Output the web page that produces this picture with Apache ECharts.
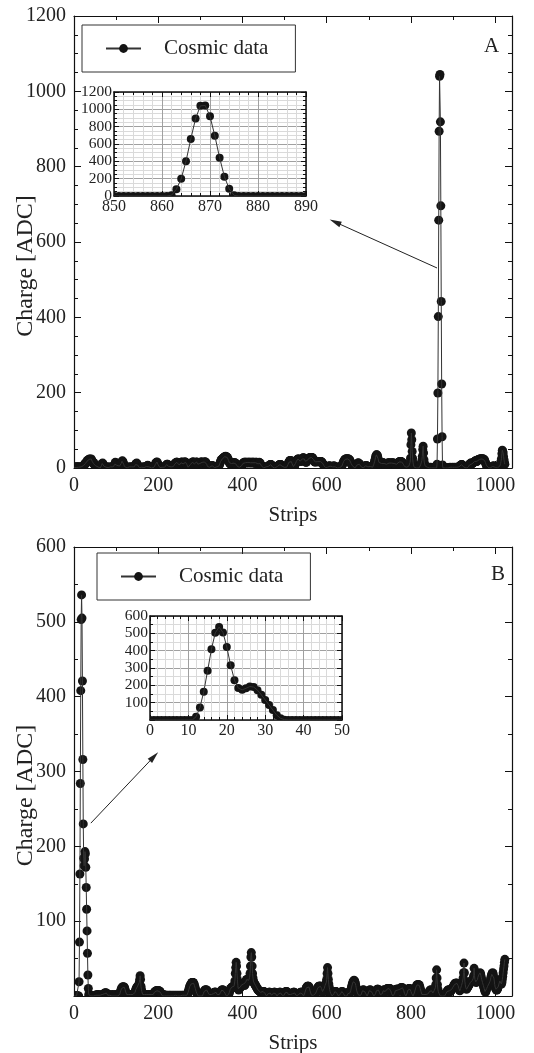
<!DOCTYPE html>
<html><head><meta charset="utf-8">
<script src="https://cdn.jsdelivr.net/npm/echarts@6/dist/echarts.min.js"></script>
<style>html,body{margin:0;padding:0;background:#fff}#c{width:534px;height:1053px}</style>
</head><body><div id="c"></div>
<script>
// ---- Panel A: charge per strip (strip = index 0..1023) ----
const chargeA = [
2,1,0,3,2,1,0,2,4,1,0,2,3,1,0,2,1,3,2,0,1,4,6,5,8,10,9,12,14,13,16,18,
20,19,22,21,23,24,22,23,20,24,21,18,17,15,12,14,10,8,9,6,5,3,4,2,1,3,2,0,1,2,0,1,
3,6,9,12,13,11,8,5,3,2,1,0,2,1,0,3,2,1,0,2,1,0,1,3,2,1,0,2,1,3,4,2,
6,10,15,14,12,9,7,5,4,6,8,7,5,4,6,9,12,15,18,19,17,14,10,6,4,2,1,0,2,1,0,1,
2,0,1,3,2,1,0,2,1,3,2,1,0,2,1,3,5,7,9,11,12,13,11,8,5,3,2,1,0,2,1,0,
1,2,0,1,2,3,1,0,2,1,3,2,4,5,6,7,6,5,3,2,1,0,2,1,0,1,3,2,1,0,2,4,
6,9,12,14,15,16,14,11,8,5,3,2,1,0,2,1,0,2,1,3,2,1,0,2,1,3,5,7,9,10,10,8,
6,4,2,1,0,2,1,3,2,1,0,2,4,6,8,10,12,13,14,15,15,15,14,12,10,9,8,9,10,12,14,15,
16,15,13,11,12,14,15,16,16,15,13,11,9,6,4,2,1,3,5,7,9,11,12,13,14,15,16,16,15,13,11,10,
12,14,15,16,15,13,10,8,7,8,10,12,14,15,16,16,15,13,11,12,14,15,16,16,16,15,13,10,7,4,2,1,
0,1,2,3,4,5,6,6,6,6,5,4,3,2,1,0,2,1,0,3,2,1,2,3,5,8,11,14,17,20,22,23,
24,25,26,27,28,29,30,30,31,30,30,29,28,26,23,20,17,14,12,11,10,11,12,13,14,14,13,12,13,14,14,13,
12,10,8,6,4,3,2,1,0,2,1,0,2,4,6,8,10,12,13,14,15,15,14,14,15,15,14,13,14,15,15,14,
14,15,15,14,13,14,15,15,14,14,15,15,14,13,12,14,15,15,14,13,12,11,12,14,15,14,12,10,8,6,4,3,
2,1,0,2,1,0,2,1,3,2,1,0,2,4,5,6,7,8,9,9,9,8,6,4,2,1,0,2,1,0,2,1,
0,2,3,4,5,6,7,8,9,9,9,9,8,7,5,3,2,1,0,2,1,3,2,1,0,2,4,6,9,12,15,17,
19,20,20,19,17,14,11,8,6,4,3,4,6,9,12,15,18,20,22,23,24,24,23,22,20,18,17,18,20,22,24,26,
27,27,26,24,21,18,16,15,16,18,20,22,24,25,26,27,27,28,28,28,28,28,27,26,24,22,19,17,16,16,17,17,
17,17,17,17,16,17,17,17,17,17,17,17,16,15,13,11,9,7,5,3,2,1,0,2,1,0,2,3,4,5,5,5,
5,4,3,2,1,2,3,4,5,5,5,4,3,2,1,0,2,1,0,2,1,3,2,1,0,2,1,3,5,8,11,14,
17,19,21,22,23,24,24,24,24,24,24,24,24,23,22,20,18,15,12,10,8,6,5,4,3,2,1,0,2,1,0,2,
8,11,13,13,13,12,10,8,6,4,2,1,0,2,1,0,2,3,4,5,6,6,6,6,5,4,3,2,1,2,3,4,
4,3,2,1,0,2,4,7,10,14,18,23,28,32,35,35,34,30,25,20,15,12,10,9,10,11,12,13,14,14,14,13,
12,11,10,9,8,9,10,11,12,13,13,13,13,13,13,12,12,13,13,13,13,13,13,13,12,11,10,9,8,9,10,11,
12,13,14,15,16,17,17,17,17,17,16,15,14,12,10,8,6,4,3,2,1,0,2,1,0,2,3,5,7,9,15,26,
62,93,75,44,26,15,8,4,2,1,0,2,1,0,2,1,0,2,1,0,2,3,5,8,10,13,20,31,49,58,40,22,
13,8,5,3,2,1,0,2,1,0,1,2,0,1,0,2,1,0,0,0,0,0,0,0,0,0,0,0,0,0,10,77,
199,402,658,894,1040,1045,919,696,442,223,83,8,0,0,0,0,0,0,0,0,0,0,0,0,0,0,0,1,0,2,1,0,
0,1,0,2,1,0,1,0,2,1,0,1,0,2,1,0,2,1,3,4,5,6,7,8,9,9,8,7,5,3,2,1,
0,2,1,0,2,1,0,1,2,4,6,8,10,12,13,13,12,11,12,13,14,15,16,17,18,19,19,18,17,18,20,22,
22,22,23,23,24,24,24,24,24,24,24,24,24,23,22,20,17,14,11,8,6,4,3,2,1,0,2,1,0,2,1,0,
2,3,4,5,5,5,4,3,2,1,0,2,1,0,2,1,0,2,3,5,8,12,18,25,38,47,44,40,30,22,15,10
];
// ---- Panel B ----
const chargeB = [
0,0,0,0,0,0,0,0,0,0,0,0,19,72,163,284,408,503,536,505,421,316,230,184,174,183,193,190,172,145,116,87,
57,28,10,2,0,0,0,0,0,0,0,0,0,0,0,0,0,0,0,0,1,0,2,1,0,1,0,2,1,0,1,0,
0,1,0,2,1,0,1,2,3,4,4,4,4,4,3,2,1,0,1,0,2,1,0,1,0,1,0,2,1,0,1,0,
1,0,2,1,0,1,0,2,1,0,1,0,2,3,5,7,9,10,11,12,12,12,12,12,11,9,7,5,3,2,1,0,
1,0,2,1,0,1,0,2,1,0,1,0,2,1,0,2,3,5,7,9,10,11,12,13,13,12,13,18,22,27,22,13,
9,6,4,2,1,0,1,0,2,1,0,1,0,2,1,0,1,0,2,1,0,1,0,2,1,0,1,0,2,3,4,5,
5,6,6,7,7,7,7,7,7,7,7,6,6,5,4,3,2,1,0,1,0,2,1,0,1,0,0,1,0,0,1,0,
0,0,1,0,0,1,0,0,0,1,0,0,0,1,0,0,0,1,0,0,0,1,0,0,0,1,0,0,0,1,0,0,
0,1,0,0,1,0,0,1,0,0,1,0,1,2,3,5,7,9,11,13,14,15,16,17,18,18,18,18,17,16,14,12,
10,8,6,4,3,2,1,0,1,0,2,1,0,1,0,2,1,0,2,3,5,6,7,8,8,8,8,8,7,6,5,4,
3,2,1,0,1,0,2,1,0,1,2,3,4,5,5,5,5,5,4,3,2,1,0,1,0,2,3,4,5,6,7,8,
8,8,8,7,6,5,4,3,2,1,0,2,1,0,1,2,3,5,7,9,10,10,11,12,12,12,11,12,13,15,20,30,
38,45,40,30,22,14,10,8,9,10,11,12,13,14,15,16,16,17,17,16,15,14,15,17,19,21,22,22,21,20,20,21,
22,25,30,40,52,58,52,40,30,24,20,18,17,16,15,14,13,12,11,10,9,8,8,7,7,6,6,5,5,5,5,5,
5,6,6,6,5,4,3,2,1,0,1,0,2,3,4,5,5,5,4,3,2,1,0,1,2,3,4,5,5,5,4,3,
2,1,0,1,0,2,3,4,5,5,5,4,3,2,1,0,1,0,2,1,3,4,5,6,6,6,5,4,3,2,1,0,
1,0,2,1,0,1,2,3,4,5,5,5,4,3,2,1,0,1,0,2,1,0,1,2,3,4,5,5,5,4,3,2,
1,0,1,2,4,6,8,10,11,12,13,13,13,13,12,10,8,6,4,2,1,0,1,0,2,1,0,1,2,3,4,5,
6,8,10,11,12,13,13,13,13,13,13,12,10,8,6,5,6,8,10,12,14,15,16,18,22,30,38,30,22,16,12,9,
6,4,3,2,1,0,1,0,2,3,4,5,6,6,6,5,4,3,2,1,0,1,0,2,1,3,4,5,6,6,5,4,
3,2,1,0,1,0,2,1,0,2,3,4,5,5,5,4,5,7,9,12,14,16,18,19,20,21,20,19,17,14,11,8,
6,4,3,2,1,0,1,0,2,1,3,4,6,7,8,8,8,7,6,5,4,3,2,1,0,1,2,4,6,7,8,8,
8,7,6,5,4,3,2,1,0,1,0,2,3,5,7,8,9,9,9,8,7,5,3,2,1,0,2,1,3,5,7,8,
8,8,7,6,6,7,8,9,10,10,10,10,10,10,10,9,7,5,3,2,1,0,1,0,2,3,5,7,8,9,9,9,
9,8,7,6,7,8,9,10,11,11,11,11,11,10,9,7,5,3,2,1,0,1,2,4,6,8,9,10,10,10,9,8,
6,4,3,2,1,0,1,2,4,6,8,10,12,13,14,15,15,15,15,15,14,12,10,8,6,4,2,1,0,1,0,2,
1,0,1,0,2,1,0,1,2,3,4,5,6,7,8,8,8,7,6,5,4,5,6,7,8,9,11,15,24,35,24,15,
9,6,4,3,2,1,0,1,0,2,1,0,1,0,2,1,0,1,2,3,4,5,6,7,8,8,8,8,7,6,6,7,
8,9,10,11,12,13,14,15,16,17,17,17,17,17,17,16,14,12,10,8,7,8,10,12,14,16,18,20,24,31,44,31,
20,15,12,10,9,10,11,12,13,14,15,16,17,18,19,20,20,20,21,22,24,27,37,27,22,20,19,18,19,20,22,25,
27,28,29,30,31,30,28,25,22,20,18,16,14,12,10,8,6,5,6,8,10,12,13,14,15,16,17,18,20,22,25,27,
29,30,31,30,27,24,20,15,12,10,9,8,8,9,10,12,14,16,18,20,22,20,18,16,18,22,26,31,36,40,45,49
];
// inset windows (strip ranges) and arrows (data coords: [strip, charge])
const insetRangeA = [850, 890];
const insetRangeB = [0, 50];
const arrowA = [[862, 531], [620, 653]];
const arrowB = [[40, 231], [190, 320]];
const seriesName = 'Cosmic data';

if (chargeA.length !== 1024 || chargeB.length !== 1024) throw new Error('len ' + chargeA.length + ' ' + chargeB.length);

const pairsA = chargeA.map((v, i) => [i, v]);
const pairsB = chargeB.map((v, i) => [i, v]);
const insetA = pairsA.slice(insetRangeA[0], insetRangeA[1] + 1);
const insetB = pairsB.slice(insetRangeB[0], insetRangeB[1] + 1);

const FONT = "'Liberation Serif', 'Times New Roman', serif";
const INK = '#141414';
const LINE = '#333';
const plain = v => String(v);

function dots(r) {
  return function (params, api) {
    const p = api.coord([api.value(0), api.value(1)]);
    return { type: 'circle', shape: { cx: p[0], cy: p[1], r: r }, style: { fill: INK } };
  };
}

function axisCommon(o) {
  return Object.assign({
    type: 'value',
    axisLine: { show: true, onZero: false, lineStyle: { color: '#111', width: 1.2 } },
    axisTick: { show: true, inside: true, length: 7, lineStyle: { color: '#111', width: 1 } },
    minorTick: { show: true, length: 4, lineStyle: { color: '#111', width: 1 } },
    splitLine: { show: false },
    nameTextStyle: { fontFamily: FONT, fontSize: 21, color: '#222' },
    nameLocation: 'middle',
    nameMoveOverlap: false
  }, o);
}

function mainX(grid, pos, label, minorSplit) {
  return axisCommon({
    gridIndex: grid, position: pos, min: 0, max: 1040, interval: 200,
    minorTick: { show: true, splitNumber: minorSplit, length: 4, lineStyle: { color: '#111' } },
    axisLabel: { show: label, fontFamily: FONT, fontSize: 20, color: '#222', margin: 8, showMaxLabel: false, formatter: plain },
    name: label ? 'Strips' : '', nameGap: 37
  });
}
function mainY(grid, pos, label, max, interval, minorSplit, hideMin) {
  return axisCommon({
    gridIndex: grid, position: pos, min: 0, max: max, interval: interval,
    minorTick: { show: true, splitNumber: minorSplit, length: 4, lineStyle: { color: '#111' } },
    axisLabel: { show: label, fontFamily: FONT, fontSize: 20, color: '#222', margin: 8, showMinLabel: !hideMin, formatter: plain },
    name: label ? 'Charge [ADC]' : '', nameGap: 36,
    nameTextStyle: { fontFamily: FONT, fontSize: 24, color: '#222', padding: [0, 48, 0, 0] }
  });
}
function insetAxis(dim, grid, pos, label, min, max, interval, minorSplit, hideMin) {
  const grids = pos === 'bottom' || pos === 'left';
  return axisCommon({
    gridIndex: grid, position: pos, min: min, max: max, interval: interval,
    axisLine: { show: true, onZero: false, lineStyle: { color: '#111', width: 1.5 } },
    axisTick: { show: true, inside: true, length: 5, lineStyle: { color: '#111' } },
    minorTick: { show: true, splitNumber: minorSplit, length: 3, lineStyle: { color: '#111' } },
    splitLine: { show: grids, lineStyle: { color: '#a0a0a0', width: 1 } },
    minorSplitLine: { show: grids, lineStyle: { color: '#dadada', width: 1 } },
    axisLabel: { show: label, fontFamily: FONT, fontSize: dim === 'x' ? 16 : 15.5, color: '#222',
      margin: dim === 'x' ? 3 : 2, showMinLabel: !hideMin, formatter: plain }
  });
}

const gridBase = { outerBoundsMode: 'none', containLabel: false };
const option = {
  animation: false,
  backgroundColor: '#fff',
  textStyle: { fontFamily: FONT },
  grid: [
    Object.assign({ left: 74, top: 16, width: 438, height: 452 }, gridBase),
    Object.assign({ left: 114, top: 92, width: 192, height: 104, show: true, backgroundColor: '#fff', borderWidth: 0 }, gridBase),
    Object.assign({ left: 74, top: 547, width: 438, height: 449 }, gridBase),
    Object.assign({ left: 150, top: 616, width: 192, height: 104, show: true, backgroundColor: '#fff', borderWidth: 0 }, gridBase)
  ],
  xAxis: [
    mainX(0, 'bottom', true, 2),
    mainX(0, 'top', false, 2),
    insetAxis('x', 1, 'bottom', true, insetRangeA[0], insetRangeA[1], 10, 5, false),
    insetAxis('x', 1, 'top', false, insetRangeA[0], insetRangeA[1], 10, 5, false),
    mainX(2, 'bottom', true, 2),
    mainX(2, 'top', false, 2),
    insetAxis('x', 3, 'bottom', true, insetRangeB[0], insetRangeB[1], 10, 5, false),
    insetAxis('x', 3, 'top', false, insetRangeB[0], insetRangeB[1], 10, 5, false)
  ],
  yAxis: [
    mainY(0, 'left', true, 1200, 200, 4, false),
    mainY(0, 'right', false, 1200, 200, 4, false),
    insetAxis('y', 1, 'left', true, 0, 1200, 200, 4, false),
    insetAxis('y', 1, 'right', false, 0, 1200, 200, 4, false),
    mainY(2, 'left', true, 600, 100, 2, true),
    mainY(2, 'right', false, 600, 100, 2, true),
    insetAxis('y', 3, 'left', true, 0, 600, 100, 2, true),
    insetAxis('y', 3, 'right', false, 0, 600, 100, 2, true)
  ],
  legend: [
    { data: [seriesName], left: 82, top: 25, orient: 'horizontal', padding: [13, 27, 13, 23],
      borderColor: '#333', borderWidth: 1, itemWidth: 35, itemHeight: 11, selectedMode: false,
      textStyle: { fontFamily: FONT, fontSize: 21, color: '#222', padding: [0, 0, 0, 18] } },
    { data: [seriesName], left: 97, top: 553, orient: 'horizontal', padding: [13, 27, 13, 23],
      borderColor: '#333', borderWidth: 1, itemWidth: 35, itemHeight: 11, selectedMode: false,
      textStyle: { fontFamily: FONT, fontSize: 21, color: '#222', padding: [0, 0, 0, 18] } }
  ],
  title: [
    { text: 'A', left: 479, top: 31, textStyle: { fontFamily: FONT, fontSize: 21, fontWeight: 'normal', color: '#222' } },
    { text: 'B', left: 486, top: 559, textStyle: { fontFamily: FONT, fontSize: 21, fontWeight: 'normal', color: '#222' } }
  ],
  series: [
    { name: seriesName, type: 'line', xAxisIndex: 0, yAxisIndex: 0, data: pairsA, showSymbol: false,
      symbol: 'circle', symbolSize: 9, clip: true, silent: true,
      lineStyle: { color: LINE, width: 1 }, itemStyle: { color: INK },
      markLine: { silent: true, symbol: ['none', 'triangle'], symbolSize: [6, 12], animation: false,
        lineStyle: { color: '#222', width: 1, type: 'solid' }, label: { show: false },
        data: [[{ coord: arrowA[0] }, { coord: arrowA[1] }]] } },
    { name: 'dotsA', type: 'custom', xAxisIndex: 0, yAxisIndex: 0, data: pairsA, clip: true, silent: true,
      renderItem: dots(4.5), encode: { x: 0, y: 1 } },
    { name: 'insetLineA', type: 'line', xAxisIndex: 2, yAxisIndex: 2, data: insetA, showSymbol: false,
      clip: true, silent: true, lineStyle: { color: LINE, width: 1 } },
    { name: 'insetDotsA', type: 'custom', xAxisIndex: 2, yAxisIndex: 2, data: insetA, clip: true, silent: true,
      renderItem: dots(4), encode: { x: 0, y: 1 } },
    { name: seriesName, type: 'line', xAxisIndex: 4, yAxisIndex: 4, data: pairsB, showSymbol: false,
      symbol: 'circle', symbolSize: 9, clip: true, silent: true,
      lineStyle: { color: LINE, width: 1 }, itemStyle: { color: INK },
      markLine: { silent: true, symbol: ['none', 'triangle'], symbolSize: [6, 12], animation: false,
        lineStyle: { color: '#222', width: 1, type: 'solid' }, label: { show: false },
        data: [[{ coord: arrowB[0] }, { coord: arrowB[1] }]] } },
    { name: 'dotsB', type: 'custom', xAxisIndex: 4, yAxisIndex: 4, data: pairsB, clip: true, silent: true,
      renderItem: dots(4.5), encode: { x: 0, y: 1 } },
    { name: 'insetLineB', type: 'line', xAxisIndex: 6, yAxisIndex: 6, data: insetB, showSymbol: false,
      clip: true, silent: true, lineStyle: { color: LINE, width: 1 } },
    { name: 'insetDotsB', type: 'custom', xAxisIndex: 6, yAxisIndex: 6, data: insetB, clip: true, silent: true,
      renderItem: dots(4), encode: { x: 0, y: 1 } }
  ]
};

const chart = echarts.init(document.getElementById('c'), null, { renderer: 'canvas' });
chart.setOption(option);
</script>
</body></html>
